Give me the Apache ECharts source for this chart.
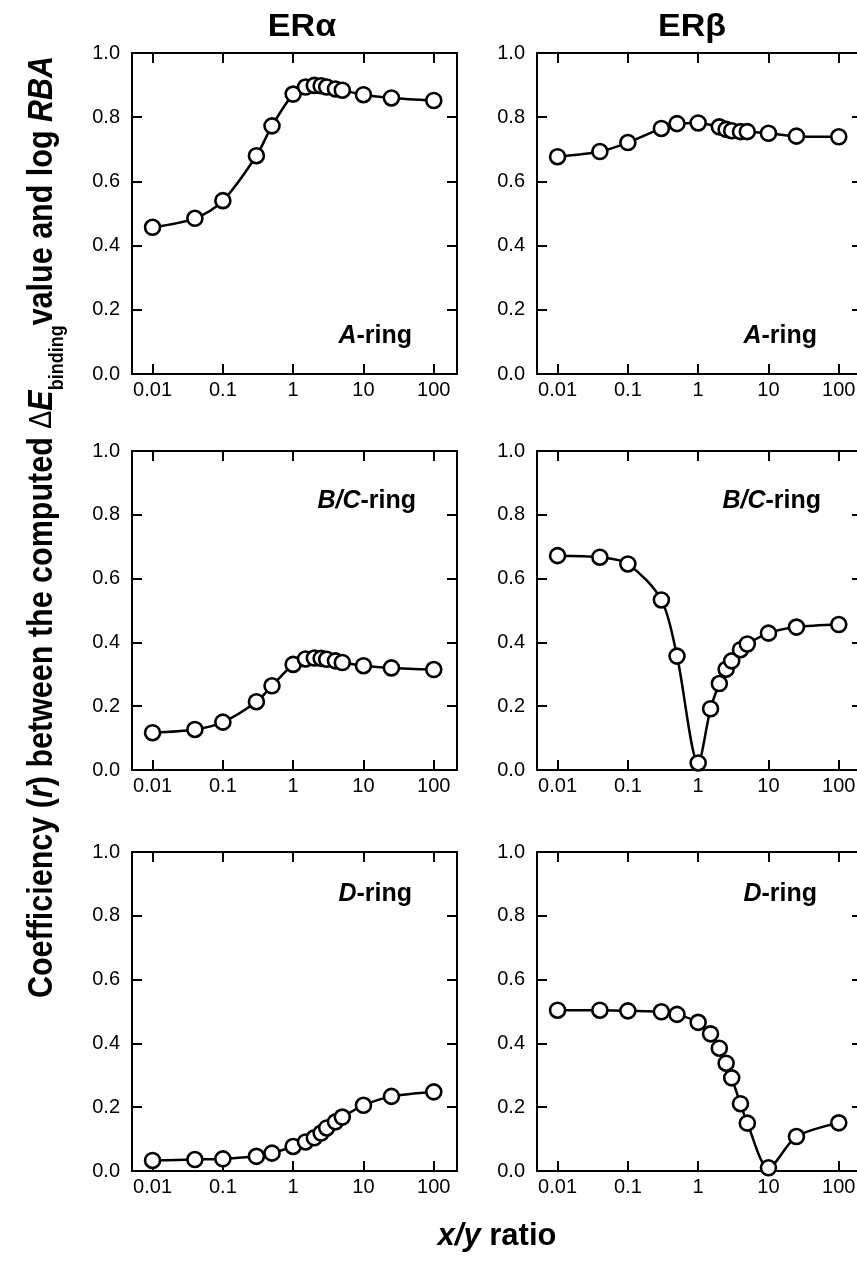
<!DOCTYPE html>
<html>
<head>
<meta charset="utf-8">
<script src="https://cdn.jsdelivr.net/npm/echarts@6/dist/echarts.min.js"></script>
<style>
  html, body { margin: 0; padding: 0; background: #fff; }
  #chart { width: 857px; height: 1265px; }
</style>
</head>
<body>
<div id="chart"></div>
<script>
// x/y ratios shared by every panel
const ratios = [0.01, 0.04, 0.1, 0.3, 0.5, 1, 1.5, 2, 2.5, 3, 4, 5, 10, 25, 100];

// coefficiency r (null = no point drawn)
const alphaA  = [0.457, 0.485, 0.540, 0.680, 0.773, 0.872, 0.894, 0.899, 0.898, 0.894, 0.888, 0.884, 0.870, 0.860, 0.852];
const betaA   = [0.677, 0.693, 0.721, 0.765, 0.780, 0.782, null, 0.770, 0.762, 0.758, 0.755, 0.755, 0.750, 0.741, 0.739];
const alphaBC = [0.117, 0.127, 0.150, 0.214, 0.264, 0.331, 0.348, 0.351, 0.350, 0.347, 0.342, 0.337, 0.327, 0.320, 0.315];
const betaBC  = [0.672, 0.667, 0.646, 0.533, 0.357, 0.022, 0.192, 0.271, 0.316, 0.342, 0.377, 0.395, 0.429, 0.448, 0.456];
const alphaD  = [0.033, 0.036, 0.038, 0.046, 0.056, 0.077, 0.091, 0.104, 0.119, 0.135, 0.154, 0.169, 0.206, 0.234, 0.248];
const betaD   = [0.504, 0.504, 0.502, 0.499, 0.491, 0.466, 0.430, 0.385, 0.338, 0.292, 0.211, 0.150, 0.010, 0.108, 0.151];

const yTicks = [0, 0.2, 0.4, 0.6, 0.8, 1.0];
const columnTitles = ['ER\u03b1', 'ER\u03b2'];
const ringNames = ['A', 'B/C', 'D'];

const FONT = "'Liberation Sans', Arial, Helvetica, sans-serif";

// layout
const colLeft = [132, 537];
const rowTop = [53, 451, 852];
const rowH = [321, 319, 319];
const plotW = 325;

const panels = [
  { row: 0, col: 0, values: alphaA },
  { row: 0, col: 1, values: betaA },
  { row: 1, col: 0, values: alphaBC },
  { row: 1, col: 1, values: betaBC },
  { row: 2, col: 0, values: alphaD },
  { row: 2, col: 1, values: betaD },
];

const chart = echarts.init(document.getElementById('chart'));

const isDecade = (v) => {
  const l = Math.log10(v);
  return Math.abs(l - Math.round(l)) < 1e-6 && Math.round(l) >= -2 && Math.round(l) <= 2;
};

const axisLine = { show: true, onZero: false, lineStyle: { color: '#000', width: 2 } };
const axisTick = { show: true, inside: true, length: 10, lineStyle: { color: '#000', width: 2 } };

const grid = [], xAxis = [], yAxis = [], series = [], graphic = [];

panels.forEach((p, i) => {
  grid.push({
    left: colLeft[p.col], top: rowTop[p.row], width: plotW, height: rowH[p.row],
    containLabel: false, outerBoundsMode: 'none'
  });

  const xBase = {
    gridIndex: i, type: 'log', logBase: 10, min: 0.0051, max: 214,
    axisLine, axisTick, splitLine: { show: false }, minorTick: { show: false }
  };
  xAxis.push(Object.assign({}, xBase, {
    position: 'bottom',
    axisLabel: {
      color: '#000', fontSize: 20, fontFamily: FONT, margin: 6, hideOverlap: false,
      formatter: (v) => isDecade(v) ? String(Number(v.toPrecision(3))) : ''
    }
  }));
  xAxis.push(Object.assign({}, xBase, { position: 'top', axisLabel: { show: false } }));

  const yBase = {
    gridIndex: i, type: 'value', min: yTicks[0], max: yTicks[yTicks.length - 1], interval: 0.2,
    axisLine, axisTick, splitLine: { show: false }
  };
  yAxis.push(Object.assign({}, yBase, {
    position: 'left',
    axisLabel: { color: '#000', fontSize: 20, fontFamily: FONT, margin: 12, formatter: (v) => v.toFixed(1) }
  }));
  yAxis.push(Object.assign({}, yBase, { position: 'right', axisLabel: { show: false } }));

  const data = [];
  ratios.forEach((r, k) => { if (p.values[k] != null) data.push([r, p.values[k]]); });

  series.push({
    type: 'line',
    xAxisIndex: i * 2,
    yAxisIndex: i * 2,
    data,
    smooth: 0.3,
    clip: false,
    symbol: 'circle',
    symbolSize: 15,
    lineStyle: { color: '#000', width: 2.5 },
    itemStyle: { color: '#fff', borderColor: '#000', borderWidth: 2.6 },
    emphasis: { disabled: true },
    z: 3
  });

  // ring annotation
  const right = colLeft[p.col] + plotW - (p.row === 1 ? 41 : 45);
  const base = p.row === 0 ? rowTop[0] + rowH[0] - 31 : (p.row === 1 ? rowTop[1] + 57 : rowTop[2] + 49);
  graphic.push({
    type: 'text', x: right, y: base + 6, z: 10,
    style: {
      text: '{i|' + ringNames[p.row] + '}{b|-ring}',
      align: 'right', verticalAlign: 'bottom',
      rich: {
        i: { fontSize: 25, fontWeight: 'bold', fontStyle: 'italic', fontFamily: FONT, fill: '#000' },
        b: { fontSize: 25, fontWeight: 'bold', fontFamily: FONT, fill: '#000' }
      }
    }
  });
});

// column titles
[302, 692].forEach((cx, c) => {
  graphic.push({
    type: 'text', x: cx, y: 27, z: 10, scaleX: 1.1,
    style: { text: columnTitles[c], align: 'center', verticalAlign: 'middle',
      font: 'bold 31px ' + FONT, fill: '#000' }
  });
});

// shared x-axis title
graphic.push({
  type: 'text', x: 497, y: 1236, z: 10,
  style: {
    text: '{i|x/y}{b| ratio}', align: 'center', verticalAlign: 'middle',
    rich: {
      i: { fontSize: 31, fontWeight: 'bold', fontStyle: 'italic', fontFamily: FONT, fill: '#000' },
      b: { fontSize: 31, fontWeight: 'bold', fontFamily: FONT, fill: '#000' }
    }
  }
});

// shared y-axis title (rotated)
graphic.push({
  type: 'text', x: 42, y: 527, rotation: Math.PI / 2, scaleY: 1.15, z: 10,
  style: {
    text: '{b|Coefficiency (}{i|r}{b|) between the computed }{d|\u0394}{i|E}{s|binding}{b|value and log }{i|RBA}',
    align: 'center', verticalAlign: 'middle',
    rich: {
      b: { fontSize: 30.5, fontWeight: 'bold', fontFamily: FONT, fill: '#000', lineHeight: 44 },
      i: { fontSize: 30.5, fontWeight: 'bold', fontStyle: 'italic', fontFamily: FONT, fill: '#000', lineHeight: 44 },
      d: { fontSize: 27, fontFamily: FONT, fill: '#000', lineHeight: 44 },
      s: { fontSize: 18, fontWeight: 'bold', fontFamily: FONT, fill: '#000', lineHeight: 22, verticalAlign: 'bottom' }
    }
  }
});

chart.setOption({
  animation: false,
  backgroundColor: '#fff',
  grid, xAxis, yAxis, series, graphic
});
</script>
</body>
</html>
